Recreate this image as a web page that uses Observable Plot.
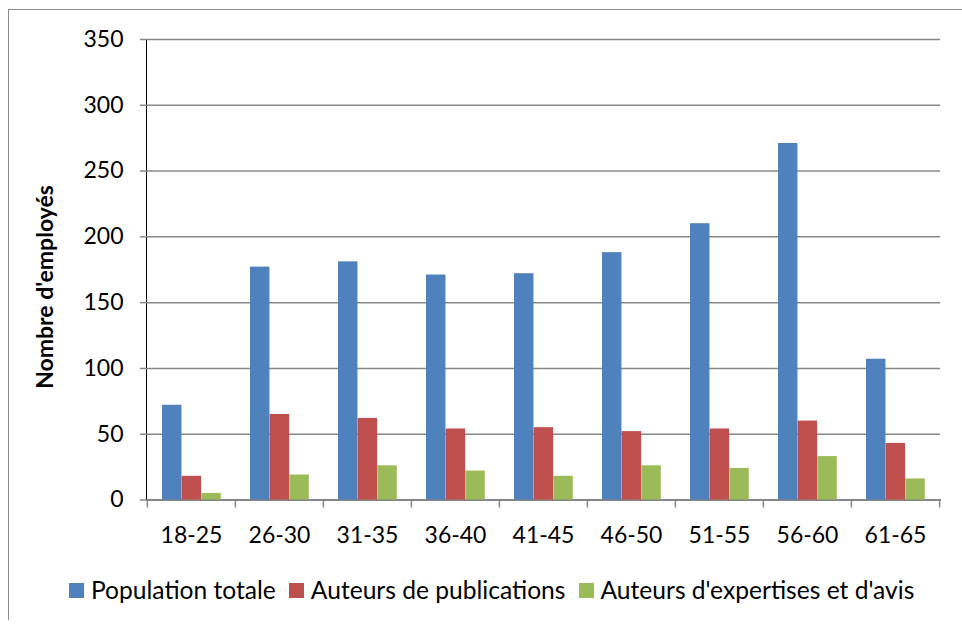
<!DOCTYPE html>
<html>
<head>
<meta charset="utf-8">
<script src="https://cdn.jsdelivr.net/npm/d3@7"></script>
<script src="https://cdn.jsdelivr.net/npm/@observablehq/plot@0.6"></script>
<style>
  body { margin: 0; background: #fff; font-family: Lato, sans-serif; }
  #wrap { position: relative; width: 962px; height: 626px; overflow: hidden; background: #fff; }
  #frame { position: absolute; left: 8px; top: 9px; width: 980px; height: 611px;
           border-left: 1.5px solid #8c8c8c; border-top: 1.5px solid #8c8c8c; box-sizing: border-box; }
  #chart { position: absolute; left: 0; top: 0; }
  #chart svg [aria-label*="axis"] line, #chart svg [aria-label*="axis"] path { stroke: #878787; stroke-width: 1.5px; }
  #ytitle { position: absolute; left: 44px; top: 287px; transform: translate(-50%, -50%) rotate(-90deg);
            font-weight: bold; font-size: 23px; white-space: nowrap; color: #000; }
  #legend { position: absolute; left: 69px; top: 577px; display: flex; align-items: center;
            font-size: 24.6px; line-height: 26px; color: #000; white-space: nowrap; }
  .item { display: flex; align-items: center; margin-right: 13px; }
  .sw { display: inline-block; width: 15px; height: 15px; margin-right: 7px; }
</style>
</head>
<body>
<div id="wrap">
  <div id="frame"></div>
  <div id="chart"></div>
  <div id="ytitle">Nombre d'employés</div>
  <div id="legend"></div>
</div>
<script>
const ages = ["18-25", "26-30", "31-35", "36-40", "41-45", "46-50", "51-55", "56-60", "61-65"];
const seriesNames = ["Population totale", "Auteurs de publications", "Auteurs d'expertises et d'avis"];
const populationTotale = [72, 177, 181, 171, 172, 188, 210, 271, 107];
const auteursPublications = [18, 65, 62, 54, 55, 52, 54, 60, 43];
const auteursExpertises = [5, 19, 26, 22, 18, 26, 24, 33, 16];
const seriesColors = ["#4F81BD", "#C0504D", "#9BBB59"];
const yTicks = [0, 50, 100, 150, 200, 250, 300, 350];

const seriesValues = [populationTotale, auteursPublications, auteursExpertises];

const W = 962, H = 560, ML = 146, MR = 22, MT = 39, MB = 60.5;
const band = (W - ML - MR) / ages.length;
const groupOffset = 0.17, barFrac = 0.223;

const barMarks = seriesValues.map((vals, i) => {
  const data = ages.map((a, j) => ({age: a, value: vals[j], series: seriesNames[i]}));
  const left = band * (groupOffset + i * barFrac);
  return Plot.barY(data, {
    x: "age", y: "value", fill: seriesColors[i],
    insetLeft: left, insetRight: band - left - band * barFrac
  });
});

const chart = Plot.plot({
  width: W, height: H,
  marginLeft: ML, marginRight: MR, marginTop: MT, marginBottom: MB,
  style: {fontFamily: "Lato, sans-serif", fontSize: "23px", color: "#000", background: "transparent", overflow: "visible"},
  x: {domain: ages, padding: 0, tickSize: 0, tickPadding: 27, label: null, line: true},
  y: {domain: [0, 350], ticks: yTicks, tickSize: 6, tickPadding: 17, label: null, line: true},
  marks: [
    Plot.ruleY(yTicks, {stroke: "#878787", strokeWidth: 1.5}),
    ...barMarks,
    Plot.ruleX(ages, {x: d => d, y1: 0, y2: -6, dx: -band / 2, stroke: "#878787", strokeWidth: 1.5}),
    Plot.ruleX([ages[ages.length - 1]], {x: d => d, y1: 0, y2: -6, dx: band / 2, stroke: "#878787", strokeWidth: 1.5})
  ]
});
document.getElementById("chart").appendChild(chart);

const legend = document.getElementById("legend");
seriesNames.forEach((name, i) => {
  const item = document.createElement("div");
  item.className = "item";
  const sw = document.createElement("span");
  sw.className = "sw";
  sw.style.background = seriesColors[i];
  const label = document.createElement("span");
  label.textContent = name;
  item.appendChild(sw);
  item.appendChild(label);
  legend.appendChild(item);
});
</script>
</body>
</html>
